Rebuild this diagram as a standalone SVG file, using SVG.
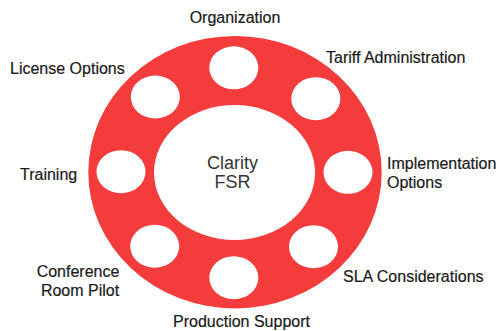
<svg xmlns="http://www.w3.org/2000/svg" width="498" height="331" viewBox="0 0 498 331">
  <style>
    .lbl { font-family: "Liberation Sans", Arial, sans-serif; font-size: 16px; fill: #1a1a1a; stroke: #1a1a1a; stroke-width: 0.2; }
    .ctr { font-family: "Liberation Sans", Arial, sans-serif; font-size: 18px; fill: #333333; text-anchor: middle; }
    .hole { fill: #ffffff; }
  </style>
  <rect width="498" height="331" fill="#ffffff"/>
  <g id="ring">
    <ellipse cx="235" cy="172.2" rx="146.7" ry="136.2" fill="#f43c3c"/>
  </g>
  <g id="center">
    <ellipse class="hole" cx="234.5" cy="172.5" rx="80.5" ry="67.5"/>
    <text class="ctr" x="232.5" y="168.5">Clarity</text>
    <text class="ctr" x="232.5" y="188">FSR</text>
  </g>
  <g id="connectors"></g>
  <g id="organization">
    <ellipse class="hole" cx="233.8" cy="67.8" rx="24.5" ry="21.5"/>
    <text class="lbl" x="235" y="23" text-anchor="middle">Organization</text>
  </g>
  <g id="tariff-administration">
    <ellipse class="hole" cx="315.8" cy="98.7" rx="24.5" ry="21.5"/>
    <text class="lbl" x="326" y="63">Tariff Administration</text>
  </g>
  <g id="implementation-options">
    <ellipse class="hole" cx="348" cy="172.3" rx="24.5" ry="21.5"/>
    <text class="lbl" x="387" y="169">Implementation</text>
    <text class="lbl" x="387" y="188">Options</text>
  </g>
  <g id="sla-considerations">
    <ellipse class="hole" cx="313.5" cy="246.7" rx="24.5" ry="21.5"/>
    <text class="lbl" x="343" y="282">SLA Considerations</text>
  </g>
  <g id="production-support">
    <ellipse class="hole" cx="233.8" cy="277.7" rx="24.5" ry="21.5"/>
    <text class="lbl" x="173" y="327">Production Support</text>
  </g>
  <g id="conference-room-pilot">
    <ellipse class="hole" cx="154.7" cy="246.2" rx="24.5" ry="21.5"/>
    <text class="lbl" x="78" y="277" text-anchor="middle">Conference</text>
    <text class="lbl" x="80" y="296" text-anchor="middle">Room Pilot</text>
  </g>
  <g id="training">
    <ellipse class="hole" cx="121" cy="171.7" rx="24.5" ry="21.5"/>
    <text class="lbl" x="20" y="180">Training</text>
  </g>
  <g id="license-options">
    <ellipse class="hole" cx="155.3" cy="97" rx="24.5" ry="21.5"/>
    <text class="lbl" x="10" y="74">License Options</text>
  </g>
</svg>
